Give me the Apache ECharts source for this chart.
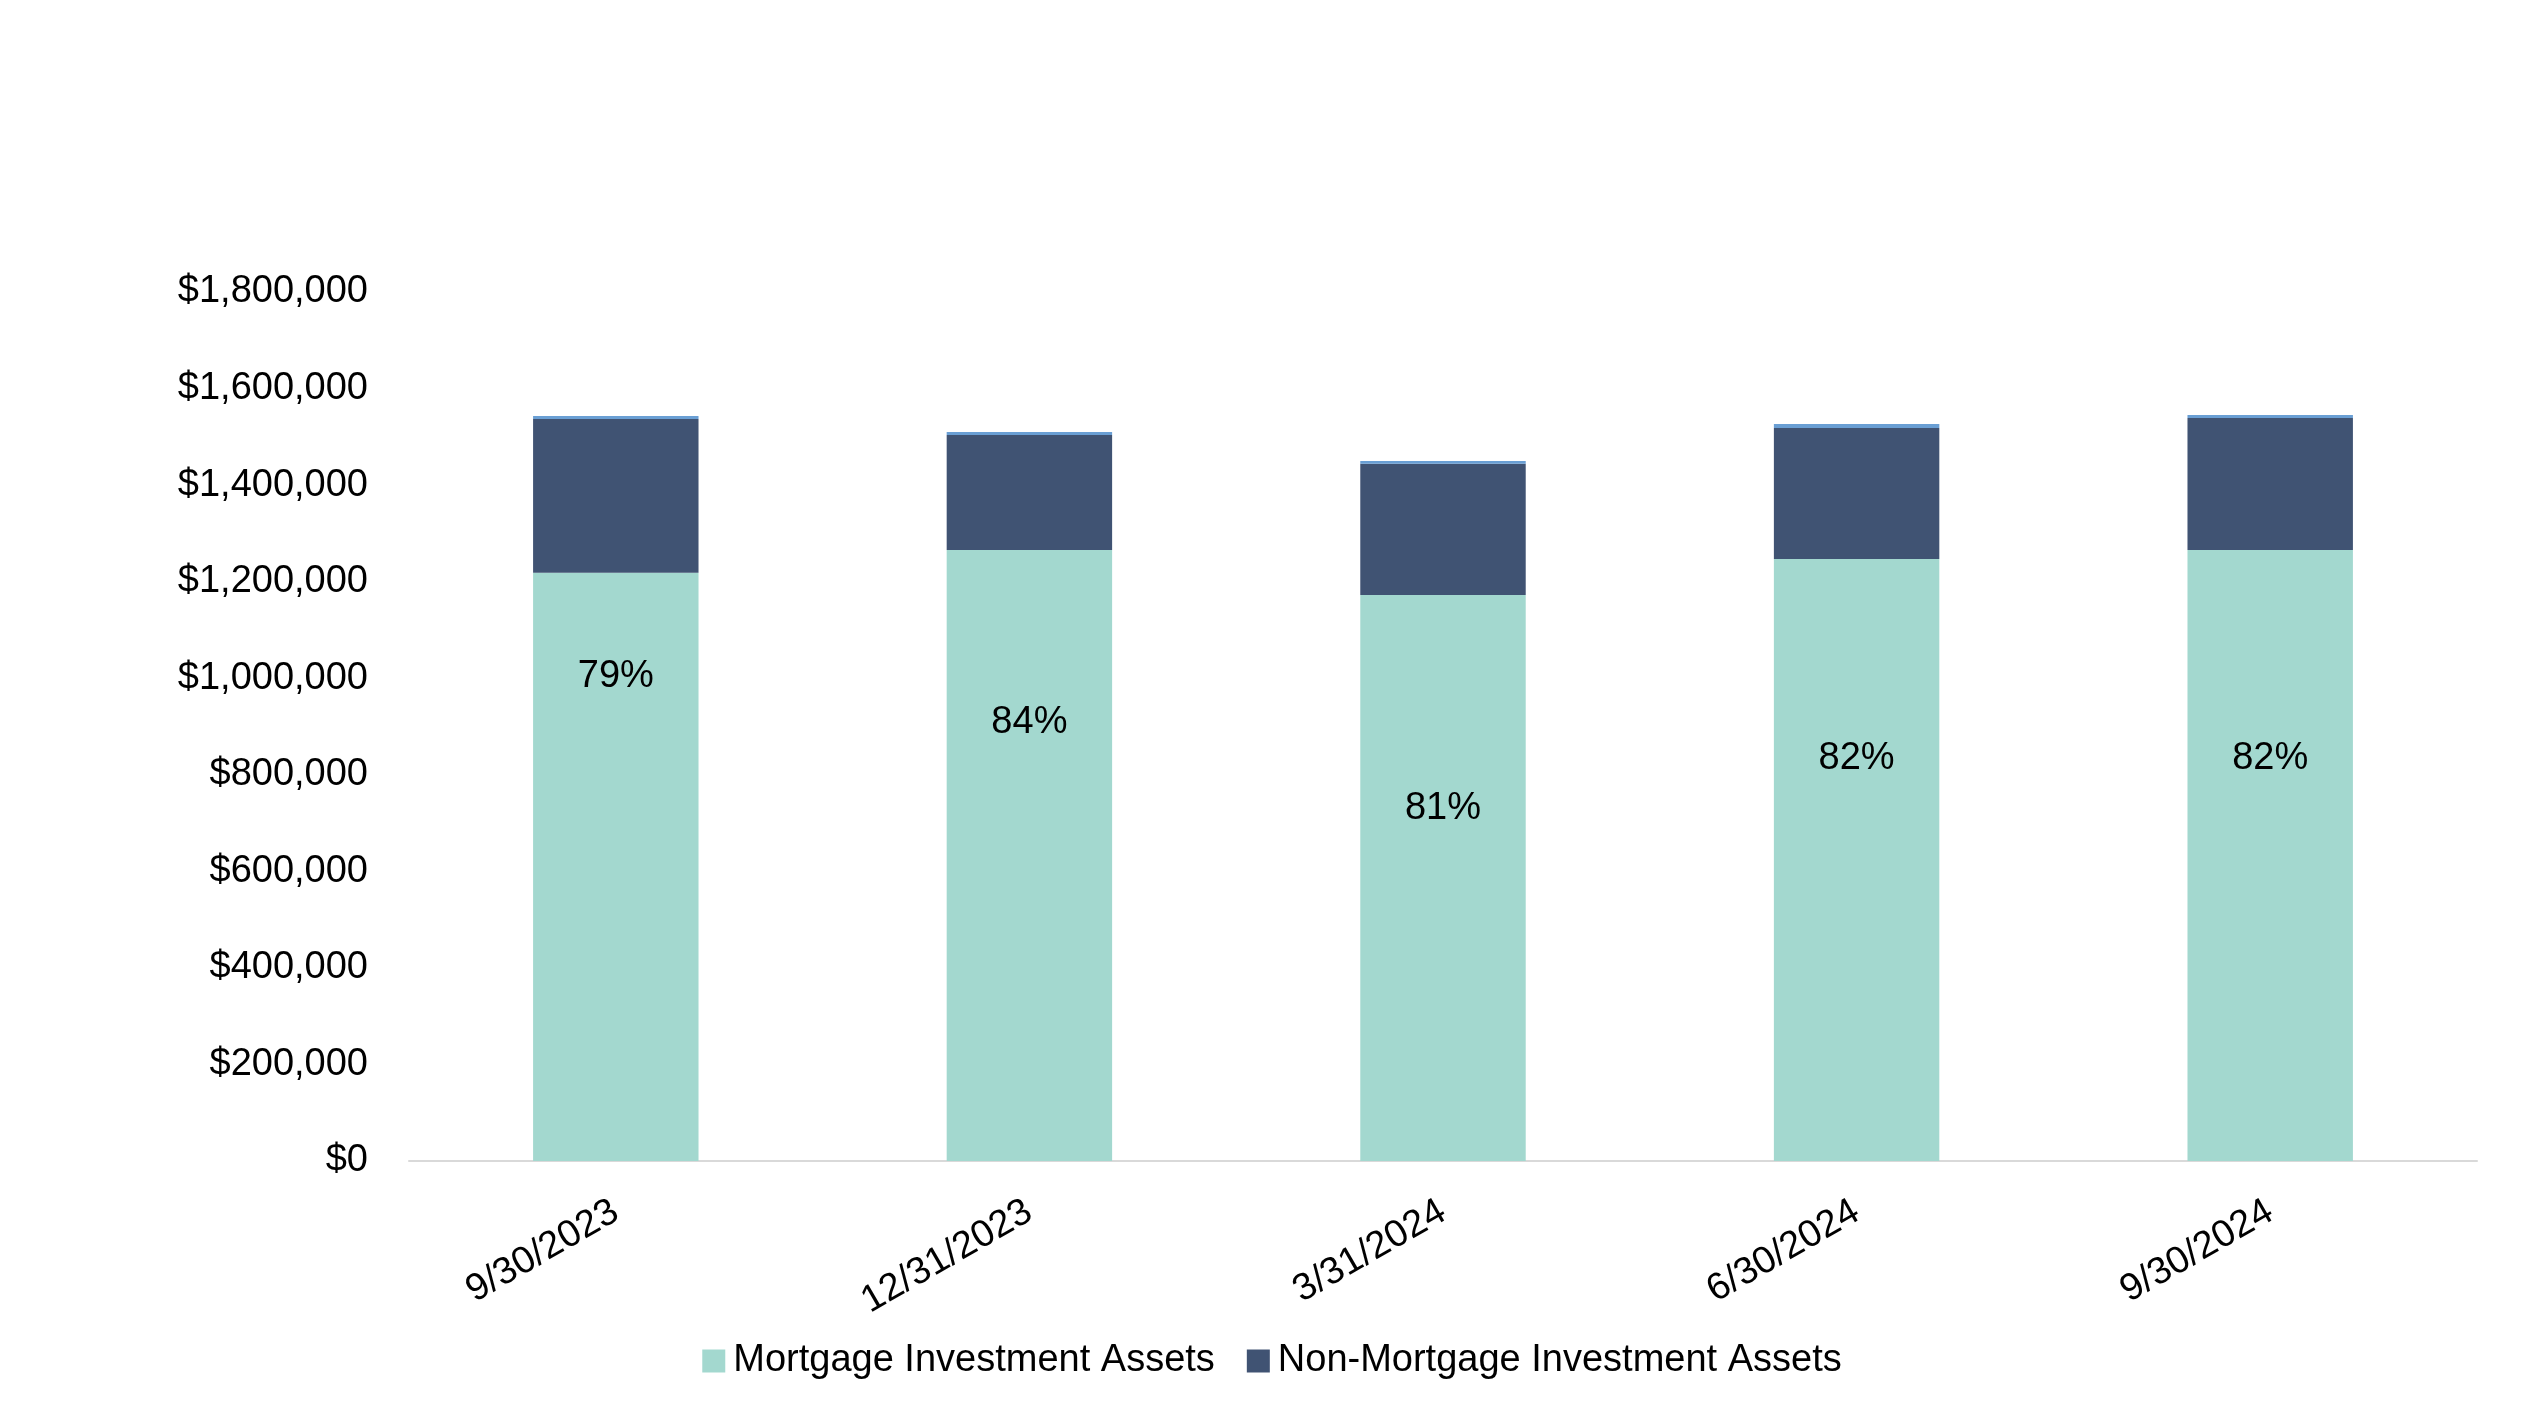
<!DOCTYPE html>
<html>
<head>
<meta charset="utf-8">
<script src="https://cdn.jsdelivr.net/npm/echarts@6/dist/echarts.min.js"></script>
<style>
html,body{margin:0;padding:0;background:#fff;}
#chart{width:2544px;height:1425px;}
</style>
</head>
<body>
<div id="chart"></div>
<script>
const categories = ['9/30/2023', '12/31/2023', '3/31/2024', '6/30/2024', '9/30/2024'];
const mortgageAssets = [1218600, 1265600, 1172400, 1247000, 1265600];
const nonMortgageAssets = [318400, 238200, 271900, 271300, 273400];
const otherAssets = [6000, 6200, 5700, 8300, 6000];
const percentLabels = ['79%', '84%', '81%', '82%', '82%'];
const yTicks = { min: 0, max: 1800000, interval: 200000 };

// styling: label drop (px) below the top of each mortgage segment
const labelDrop = [101, 170, 211, 197, 206];

const FONT = 'Liberation Sans, Arial, sans-serif';
const FS = 38;
const chart = echarts.init(document.getElementById('chart'));

function fmtMoney(v) {
  return '$' + v.toString().replace(/\B(?=(\d{3})+(?!\d))/g, ',');
}

chart.setOption({
  animation: false,
  grid: { left: 409, right: 67, top: 292, bottom: 264, containLabel: false },
  legend: {
    data: ['Mortgage Investment Assets', 'Non-Mortgage Investment Assets'],
    bottom: 40,
    left: 'center',
    itemWidth: 23,
    itemHeight: 23,
    itemGap: 32,
    icon: 'rect',
    textStyle: { fontFamily: FONT, fontSize: FS, color: '#000', padding: [0, 0, 0, 3] }
  },
  xAxis: {
    type: 'category',
    data: categories,
    axisLine: { lineStyle: { color: '#D9D9D9', width: 2 } },
    axisTick: { show: false },
    axisLabel: { rotate: 30, margin: 48, fontFamily: FONT, fontSize: FS, color: '#000' }
  },
  yAxis: {
    type: 'value',
    min: yTicks.min, max: yTicks.max, interval: yTicks.interval,
    splitLine: { show: false },
    axisLine: { show: false },
    axisTick: { show: false },
    axisLabel: { margin: 41, padding: [10, 0, 0, 0], fontFamily: FONT, fontSize: FS, color: '#000', formatter: fmtMoney }
  },
  series: [
    {
      name: 'Mortgage Investment Assets',
      type: 'bar',
      stack: 'total',
      barWidth: '40%',
      itemStyle: { color: '#A3D8CF' },
      data: mortgageAssets.map((v, i) => ({
        value: v,
        label: {
          show: true,
          position: 'insideTop',
          distance: 0,
          offset: [0, labelDrop[i] - 16],
          formatter: percentLabels[i],
          fontFamily: FONT, fontSize: FS, color: '#000'
        }
      }))
    },
    {
      name: 'Non-Mortgage Investment Assets',
      type: 'bar',
      stack: 'total',
      barWidth: '40%',
      itemStyle: { color: '#405373' },
      data: nonMortgageAssets
    },
    {
      name: 'Other',
      type: 'bar',
      stack: 'total',
      barWidth: '40%',
      itemStyle: { color: '#6A9FD4' },
      data: otherAssets
    }
  ]
});
</script>
</body>
</html>
